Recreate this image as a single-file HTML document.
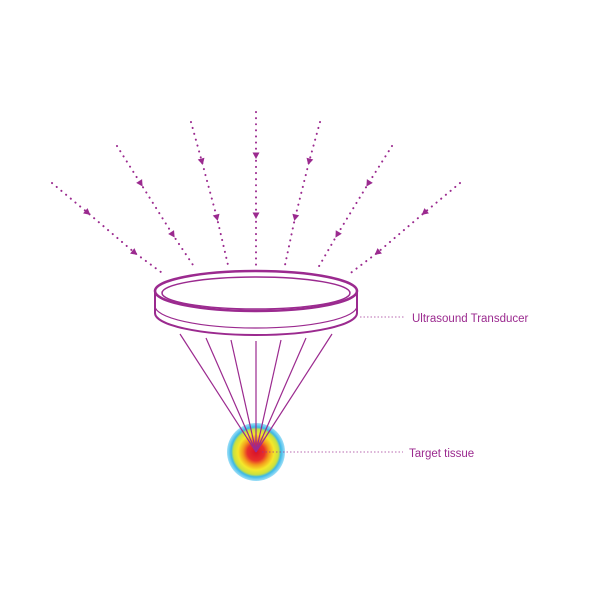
<!DOCTYPE html><html><head><style>body{margin:0;background:#fff}</style></head><body>
<svg width="600" height="600" viewBox="0 0 600 600" xmlns="http://www.w3.org/2000/svg">
<defs>
<radialGradient id="g" cx="50%" cy="50%" r="50%">
<stop offset="0" stop-color="#d8102a"/><stop offset="0.3" stop-color="#e8302a"/>
<stop offset="0.45" stop-color="#f39a1c"/><stop offset="0.62" stop-color="#f5e82a"/>
<stop offset="0.78" stop-color="#c8e040"/><stop offset="0.86" stop-color="#3ab8e8"/>
<stop offset="1" stop-color="#5cc8f0" stop-opacity="0.6"/></radialGradient>
<marker id="a" markerUnits="userSpaceOnUse" markerWidth="8" markerHeight="8" refX="4" refY="4" orient="auto"><path d="M0.5,0.5 L7,4 L0.5,7.5z" fill="#9b2a8f"/></marker>
</defs>
<circle cx="256" cy="452" r="29" fill="url(#g)"/>
<g stroke="#9b2a8f" stroke-width="1.2">
<line x1="180" y1="334" x2="256" y2="452"/><line x1="206" y1="338" x2="256" y2="452"/>
<line x1="231" y1="340" x2="256" y2="452"/><line x1="256" y1="341" x2="256" y2="452"/>
<line x1="281" y1="340" x2="256" y2="452"/><line x1="306" y1="338" x2="256" y2="452"/>
<line x1="332" y1="334" x2="256" y2="452"/>
</g>
<g stroke="#9b2a8f" stroke-width="2" stroke-dasharray="0.1 6" stroke-linecap="round" fill="none">
<path d="M52,183 L88,213 L135,253 L165,275" marker-mid="url(#a)"/>
<path d="M117,146 L141,184 L173,235 L195,268" marker-mid="url(#a)"/>
<path d="M191,122 L202,162 L217,218 L228,265" marker-mid="url(#a)"/>
<path d="M256,112 L256,156 L256,216 L256,265" marker-mid="url(#a)"/>
<path d="M320,122 L309,162 L295,218 L285,265" marker-mid="url(#a)"/>
<path d="M392,146 L368,184 L337,235 L318,268" marker-mid="url(#a)"/>
<path d="M460,183 L424,213 L377,253 L348,275" marker-mid="url(#a)"/>
</g>
<g stroke="#9b2a8f" fill="#fff">
<path d="M155,291 L155,313 A101,22 0 0 0 357,313 L357,291" stroke-width="2"/>
<ellipse cx="256" cy="291" rx="101" ry="20" stroke-width="2.5"/>
<ellipse cx="256" cy="293" rx="94" ry="16" stroke-width="1.5"/>
<path d="M155,306 A101,22 0 0 0 357,306" fill="none" stroke-width="1.2"/>
</g>
<g stroke="#9b2a8f" stroke-width="1" stroke-dasharray="1.5 2" opacity="0.7">
<line x1="360" y1="317" x2="405" y2="317"/><line x1="262" y1="452" x2="403" y2="452"/>
</g>
<g font-family="Liberation Sans, sans-serif" font-size="11.5" fill="#9b2a8f">
<text x="412" y="322">Ultrasound Transducer</text><text x="409" y="457">Target tissue</text>
</g>
</svg></body></html>
